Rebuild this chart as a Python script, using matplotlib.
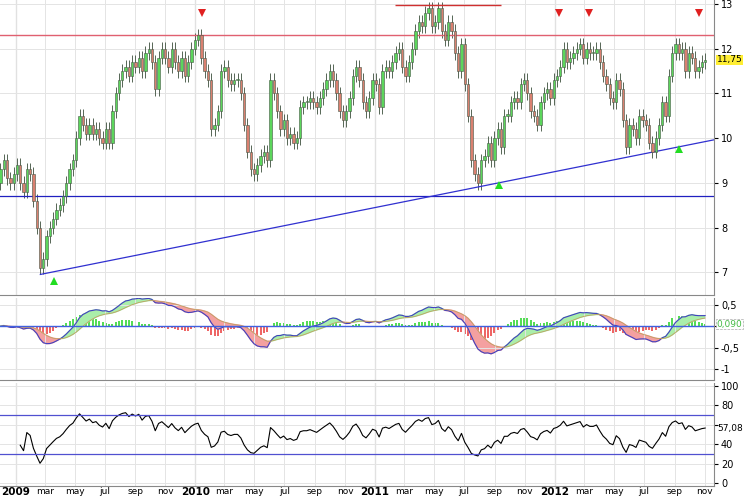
import numpy as np
import pandas as pd
import matplotlib.pyplot as plt
import matplotlib.dates as mdates

# weekly closes, Dec 2008 .. Nov 2012
closes = [9.3, 9.5, 9.1, 9.0, 9.2, 9.4, 9.0, 8.8, 9.3, 9.2, 8.6, 8.0, 7.1, 7.3,
          7.8, 8.0, 8.2, 8.4, 8.5, 8.7, 9.0, 9.3, 9.5, 10.0, 10.5, 10.3, 10.1,
          10.3, 10.1, 10.2, 10.0, 9.9, 10.2, 9.9, 10.6, 11.0, 11.3, 11.5, 11.6,
          11.4, 11.7, 11.6, 11.8, 11.5, 11.9, 12.0, 11.7, 11.1, 11.8, 12.0, 11.8, 11.6,
          12.0, 11.7, 11.5, 11.8, 11.4, 11.7, 12.0, 12.2, 12.3,
          11.8, 11.5, 11.3, 10.2, 10.3, 10.6, 11.5, 11.6, 11.3, 11.2, 11.3,
          11.3, 11.0, 10.3, 9.7, 9.3, 9.2, 9.4, 9.6, 9.7, 9.5, 11.3,
          11.0, 10.6, 10.2, 10.4, 10.0, 10.1, 9.9, 10.0, 10.7, 10.8,
          10.8, 10.9, 10.8, 10.7, 10.9, 11.1, 11.3, 11.5, 11.3, 11.0, 10.6, 10.4, 10.6, 10.9,
          11.4, 11.6, 11.3, 10.8, 10.6, 10.9, 11.3, 11.2, 10.7,
          11.5, 11.6, 11.5, 11.7, 11.9, 12.0, 11.6, 11.4, 11.7, 12.0, 12.4, 12.6, 12.5,
          12.8, 12.9, 12.5, 12.6, 12.9, 12.4, 12.2, 12.6, 12.4, 11.9, 11.5, 12.1,
          11.2, 10.5, 9.5, 9.2, 9.0, 9.5, 9.6, 9.9, 9.5, 10.0, 10.2, 9.8, 10.5, 10.5,
          10.8, 10.9, 10.8, 11.2, 11.3, 11.0, 10.6, 10.5, 10.3, 10.8, 11.0, 11.1, 10.9,
          11.3, 11.4, 11.6, 12.0, 11.7, 11.8, 11.9, 12.0, 12.1, 11.8, 12.0, 11.9, 11.9,
          12.0, 11.7, 11.4, 11.2, 10.9, 10.8, 11.3, 11.1, 10.4, 9.8, 10.3, 10.2, 10.0,
          10.5, 10.4, 10.3, 9.9, 9.7, 10.0, 10.3, 10.8, 10.5, 11.4, 11.9, 12.1, 11.9,
          12.0, 11.5, 11.9, 11.8, 11.5, 11.6, 11.7, 11.75]
first_open = 9.0
tick_years = ['2009', '2010', '2011', '2012']
month_names = ['mar', 'may', 'jul', 'sep', 'nov']

n = len(closes)
dates = pd.date_range('2008-12-01', '2012-11-02', periods=n)
xd = mdates.date2num(dates)
step = (xd[-1] - xd[0]) / (n - 1)
c = np.array(closes)
o = np.concatenate([[first_open], c[:-1]])
hi = np.maximum(o, c) + 0.15
lo = np.minimum(o, c) - 0.15


def xpos(d):
    return mdates.date2num(pd.Timestamp(d))


# indicators
s = pd.Series(c)
macd = s.ewm(span=12, adjust=False).mean() - s.ewm(span=26, adjust=False).mean()
sig = macd.ewm(span=9, adjust=False).mean()
hist = macd - sig
d = s.diff()
up = d.clip(lower=0).ewm(alpha=1 / 14, adjust=True, min_periods=6).mean()
dn = (-d.clip(upper=0)).ewm(alpha=1 / 14, adjust=True, min_periods=6).mean()
rsi = 100 - 100 / (1 + up / dn)

fig = plt.figure(figsize=(7.46, 5.0), dpi=100)
W = 714 / 746
ax1 = fig.add_axes([0, 1 - 295 / 500, W, 295 / 500])
ax2 = fig.add_axes([0, 1 - 380 / 500, W, 82 / 500], sharex=ax1)
ax3 = fig.add_axes([0, 1 - 486 / 500, W, 103 / 500], sharex=ax1)

green, red = '#5cd65c', '#d98070'
for i in range(n):
    col = green if c[i] >= o[i] else red
    ax1.vlines(xd[i], lo[i], hi[i], color='#556655', lw=0.7, zorder=2)
    ax1.bar(xd[i], max(abs(c[i] - o[i]), 0.03), bottom=min(o[i], c[i]), width=step * 0.7,
            color=col, edgecolor='#445544', lw=0.4, zorder=3)

xmin, xmax = xpos('2008-11-30'), xpos('2012-11-20')
ax1.axhline(12.3, color='#e06070', lw=1)
ax1.hlines(12.97, xpos('2011-02-10'), xpos('2011-09-15'), color='#d03030', lw=1)
ax1.axhline(8.7, color='#2020c0', lw=0.9)
t0, t1 = xpos('2009-02-20'), xmax
ax1.plot([t0, t1], [6.95, 6.95 + (t1 - t0) * 0.0022], color='#3030d0', lw=0.9)
for d_, yv in [('2009-03-20', 6.8), ('2011-09-10', 8.95), ('2012-09-10', 9.75)]:
    ax1.plot(xpos(d_), yv, marker='^', color='#22dd22', ms=6, mew=0)
for d_ in ['2010-01-15', '2012-01-10', '2012-03-10', '2012-10-20']:
    ax1.plot(xpos(d_), 12.8, marker='v', color='#e02020', ms=6, mew=0)
ax1.set_ylim(6.49, 13.09)
ax1.set_yticks([7, 8, 9, 10, 11, 12, 13])
ax1.set_yticklabels(['7', '8', '9', '10', '11', '12', '13'])
ax1.get_yticklabels()[3].set_fontweight('bold')
ax1.text(1.004, (11.75 - 6.49) / 6.6, '11,75', transform=ax1.transAxes, fontsize=6.5,
         va='center', bbox=dict(fc='#ffee33', ec='none', pad=0.5))

ax2.bar(xd, hist, width=step * 0.6, color=np.where(hist >= 0, '#55dd55', '#ee6666'))
ax2.fill_between(xd, macd, sig, where=macd >= sig, color='#aaeeaa', interpolate=True)
ax2.fill_between(xd, macd, sig, where=macd < sig, color='#f4a0a0', interpolate=True)
ax2.plot(xd, macd, color='#4040c0', lw=0.8)
ax2.plot(xd, sig, color='#c0a060', lw=0.6)
ax2.axhline(0, color='#4060e0', lw=1)
ax2.set_ylim(-1.26, 0.66)
ax2.set_yticks([-1, -0.5, 0, 0.5])
ax2.set_yticklabels(['-1', '-0,5', '', '0,5'])
ax2.text(1.004, 0.68, '0,090', transform=ax2.transAxes, fontsize=6.5, color='#44bb44',
         va='center', bbox=dict(fc='white', ec='#aaaaaa', lw=0.5, ls='--', pad=0.5))

ax3.plot(xd, rsi, color='black', lw=0.8)
ax3.axhline(70, color='#5050d0', lw=0.9)
ax3.axhline(30, color='#5050d0', lw=0.9)
ax3.set_ylim(-3, 103)
ax3.set_yticks([0, 20, 40, 60, 80, 100])
ax3.set_yticklabels(['0', '20', '40', '', '80', '100'])
for lbl, v in zip(ax3.get_yticklabels(), [0, 20, 40, 60, 80, 100]):
    if v in (0, 100):
        lbl.set_fontweight('bold')
ax3.text(1.004, (rsi.iloc[-1] + 3) / 106, '57,08', transform=ax3.transAxes, fontsize=6.5,
         va='center')

ticks, labels = [], []
for yr in tick_years:
    ticks.append(xpos(f'{yr}-01-01'))
    labels.append(yr)
    for m, nm in zip([3, 5, 7, 9, 11], month_names):
        ticks.append(xpos(f'{yr}-{m:02d}-01'))
        labels.append(nm)
year_ticks = [xpos(f'{yr}-01-01') for yr in tick_years]

for ax in (ax1, ax2, ax3):
    ax.set_xlim(xmin, xmax)
    ax.yaxis.tick_right()
    ax.tick_params(axis='y', labelsize=7, length=3, pad=2)
    ax.tick_params(axis='x', length=0)
    ax.set_xticks(ticks)
    ax.grid(True, color='#e4e4e4', lw=0.7)
    for t in year_ticks:
        ax.axvline(t, color='#999999', lw=0.8, zorder=0)
    for sp in ['top', 'left']:
        ax.spines[sp].set_visible(False)
    ax.spines['right'].set_color('#888888')
    ax.spines['bottom'].set_color('#888888')
ax1.tick_params(labelbottom=False)
ax2.tick_params(labelbottom=False)
ax3.set_xticklabels(labels, fontsize=6.5)
for lbl in ax3.get_xticklabels():
    if lbl.get_text().isdigit():
        lbl.set_fontweight('bold')
        lbl.set_fontsize(7.5)
ax3.tick_params(axis='x', pad=1)

fig.savefig('out.png', dpi=100)
